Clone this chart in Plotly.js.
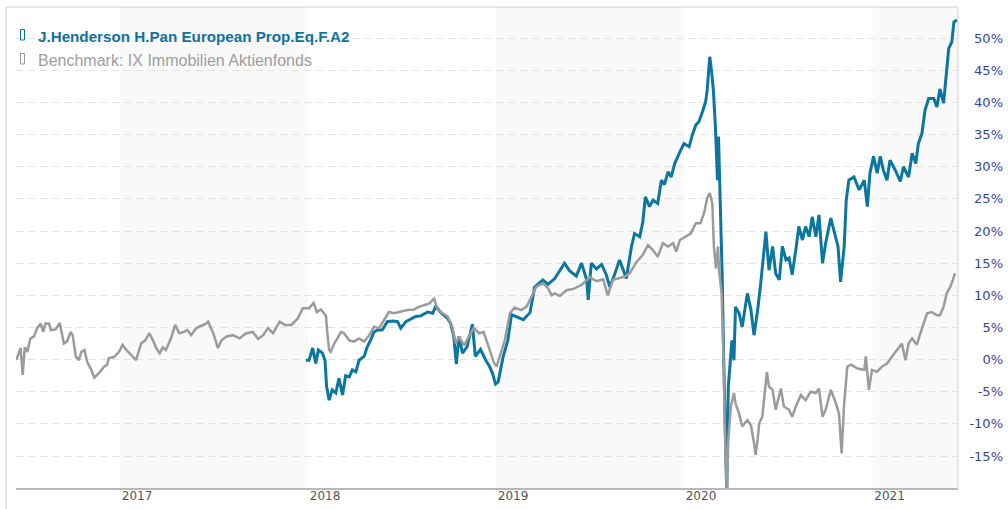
<!DOCTYPE html>
<html>
<head>
<meta charset="utf-8">
<script src="https://cdn.plot.ly/plotly-3.0.1.min.js"></script>
<style>html,body{margin:0;padding:0;background:#fff;}#chart{width:1008px;height:509px;}</style>
</head>
<body>
<div id="chart"></div>
<script>
// Series names
const fundName = 'J.Henderson H.Pan European Prop.Eq.F.A2';
const benchName = 'Benchmark: IX Immobilien Aktienfonds';

// Benchmark (gray) – performance in %
const benchDates = ['2016-06-14','2016-06-22','2016-06-26','2016-06-30','2016-07-05','2016-07-11','2016-07-18','2016-07-24','2016-07-31','2016-08-05','2016-08-09','2016-08-16','2016-08-20','2016-08-29','2016-09-06','2016-09-14','2016-09-20','2016-09-27','2016-10-01','2016-10-07','2016-10-13','2016-10-18','2016-10-24','2016-10-29','2016-11-05','2016-11-12','2016-11-21','2016-12-01','2016-12-07','2016-12-10','2016-12-20','2016-12-30',
'2017-01-06','2017-01-13','2017-01-23','2017-02-01','2017-02-11','2017-02-19','2017-02-27','2017-03-06','2017-03-12','2017-03-19','2017-03-25','2017-03-31','2017-04-10','2017-04-18','2017-04-26','2017-05-05','2017-05-12','2017-05-19','2017-05-29','2017-06-07','2017-06-17','2017-06-21','2017-07-01','2017-07-10','2017-07-17','2017-07-27','2017-08-08','2017-08-21','2017-09-03','2017-09-16','2017-09-26','2017-10-06','2017-10-15','2017-10-25','2017-11-07','2017-11-17','2017-11-30','2017-12-12','2017-12-22',
'2018-01-03','2018-01-12','2018-01-18','2018-01-26','2018-02-01','2018-02-05','2018-02-07','2018-02-11','2018-02-14','2018-02-21','2018-02-27','2018-03-06','2018-03-12','2018-03-22','2018-03-31','2018-04-10','2018-04-20','2018-04-30','2018-05-09','2018-05-19','2018-05-29','2018-06-07','2018-06-17','2018-06-30','2018-07-13','2018-07-26','2018-08-04','2018-08-24','2018-09-03','2018-09-09','2018-09-16','2018-09-29','2018-10-08','2018-10-15','2018-10-21','2018-10-31','2018-11-09','2018-11-19','2018-11-29','2018-12-08','2018-12-18','2018-12-28',
'2019-01-02','2019-01-08','2019-01-18','2019-01-28','2019-02-06','2019-02-19','2019-03-01','2019-03-11','2019-03-20','2019-04-02','2019-04-12','2019-04-19','2019-04-25','2019-05-05','2019-05-18','2019-05-31','2019-06-16','2019-07-02','2019-07-15','2019-07-28','2019-08-06','2019-08-16','2019-08-29','2019-09-08','2019-09-18','2019-10-01','2019-10-13','2019-10-23','2019-11-02','2019-11-11','2019-11-21','2019-12-01','2019-12-11','2019-12-17','2019-12-24',
'2020-01-04','2020-01-14','2020-01-24','2020-02-02','2020-02-09','2020-02-15','2020-02-20','2020-02-25','2020-02-28','2020-03-03','2020-03-07','2020-03-09','2020-03-14','2020-03-18','2020-03-20','2020-03-22','2020-03-24','2020-03-27','2020-04-01','2020-04-07','2020-04-10','2020-04-17','2020-04-23','2020-05-03','2020-05-10','2020-05-16','2020-05-19','2020-05-23','2020-05-26','2020-06-01','2020-06-10','2020-06-14','2020-06-21','2020-06-27','2020-07-07','2020-07-13','2020-07-23','2020-07-29','2020-08-05','2020-08-15','2020-08-24','2020-09-03','2020-09-13','2020-09-19','2020-09-26','2020-10-02','2020-10-12','2020-10-22','2020-10-28','2020-11-02','2020-11-07','2020-11-13','2020-11-20','2020-12-03','2020-12-16','2020-12-19','2020-12-25','2020-12-31',
'2021-01-10','2021-01-19','2021-01-29','2021-02-08','2021-02-17','2021-02-27','2021-03-06','2021-03-12','2021-03-19','2021-03-28','2021-04-04','2021-04-10','2021-04-17','2021-04-26','2021-05-06','2021-05-12','2021-05-19','2021-05-25','2021-06-01','2021-06-06','2021-06-10'];
const benchValues = [0.0,1.8,-2.4,1.9,1.2,3.3,3.6,4.9,5.6,4.3,5.6,5.6,4.6,4.7,5.7,2.5,2.8,4.3,3.8,0.5,-0.1,1.2,1.5,-0.3,-1.4,-2.8,-2.1,-1.1,-0.8,0.2,0.4,1.2,
2.3,1.5,0.7,-0.1,2.5,3.0,4.1,3.0,1.8,1.0,1.9,1.5,3.3,5.4,4.1,4.3,4.6,3.8,4.9,5.2,5.6,5.9,4.1,1.8,3.0,3.6,3.8,3.3,4.1,4.3,3.2,3.8,4.9,4.1,5.9,5.4,5.4,6.4,8.0,
8.0,8.8,7.4,7.8,7.2,6.8,4.6,1.5,1.2,2.5,3.3,4.3,4.1,3.0,2.8,3.3,2.8,3.8,5.1,4.9,6.2,7.4,7.2,7.5,7.7,7.8,8.2,8.7,9.5,7.9,7.4,6.7,5.1,2.5,3.6,2.2,3.6,4.9,4.1,4.3,2.0,-0.5,
-1.1,0.5,3.0,7.2,8.1,7.7,8.2,9.8,11.3,11.9,11.1,10.0,10.3,9.9,10.8,11.0,11.6,12.8,12.2,12.5,10.0,12.4,12.7,12.9,13.5,15.2,16.3,17.8,17.0,16.0,18.1,17.6,18.1,16.8,18.6,
19.1,19.6,21.2,21.2,22.8,25.1,25.9,24.3,17.6,14.2,17.6,13.9,10.3,-0.1,-9.9,-17.7,-21.0,-12.5,-7.3,-5.2,-6.8,-8.4,-10.4,-9.4,-10.2,-13.0,-14.8,-12.5,-9.9,-8.9,-1.9,-4.2,-4.7,-7.8,-4.5,-7.3,-7.8,-8.9,-7.3,-5.5,-6.3,-5.0,-5.2,-4.5,-8.9,-7.8,-4.7,-6.8,-8.4,-14.6,-6.8,-1.1,-0.8,-1.4,-1.6,0.5,-4.7,-1.6,
-1.9,-1.1,-0.6,0.5,1.5,2.5,-0.1,2.5,3.3,2.3,4.1,5.6,7.2,7.4,6.9,6.9,8.2,10.3,11.3,12.4,13.4];

// Fund (blue) – performance in %
const fundDates = ['2017-12-28','2018-01-03','2018-01-10','2018-01-16','2018-01-21','2018-01-29','2018-02-03','2018-02-06','2018-02-11','2018-02-17','2018-02-24','2018-03-02','2018-03-09','2018-03-15','2018-03-22','2018-03-28','2018-04-04','2018-04-10','2018-04-20','2018-04-26','2018-05-03','2018-05-09','2018-05-16','2018-05-25','2018-06-04','2018-06-14','2018-06-24','2018-06-30','2018-07-10','2018-07-19','2018-07-29','2018-08-08','2018-08-21','2018-08-31','2018-09-06','2018-09-16','2018-09-29','2018-10-05','2018-10-11','2018-10-16','2018-10-21','2018-10-28','2018-11-06','2018-11-16','2018-11-22','2018-12-02','2018-12-12','2018-12-19','2018-12-25','2018-12-31',
'2019-01-05','2019-01-15','2019-01-24','2019-01-31','2019-02-10','2019-02-23','2019-03-08','2019-03-17','2019-04-02','2019-04-12','2019-04-25','2019-05-01','2019-05-14','2019-05-24','2019-06-06','2019-06-16','2019-06-26','2019-06-29','2019-07-05','2019-07-15','2019-07-25','2019-08-03','2019-08-10','2019-08-19','2019-08-29','2019-09-11','2019-09-21','2019-09-27','2019-10-07','2019-10-13','2019-10-18','2019-10-26','2019-11-02','2019-11-11','2019-11-18','2019-11-24','2019-12-01','2019-12-07','2019-12-14','2019-12-24',
'2020-01-01','2020-01-11','2020-01-17','2020-01-24','2020-01-30','2020-02-06','2020-02-12','2020-02-15','2020-02-18','2020-02-20','2020-02-24','2020-02-27','2020-03-02','2020-03-04','2020-03-06','2020-03-08','2020-03-11','2020-03-15','2020-03-18','2020-03-21','2020-03-24','2020-03-27','2020-04-03','2020-04-07','2020-04-10','2020-04-17','2020-04-23','2020-05-03','2020-05-10','2020-05-16','2020-05-23','2020-05-29','2020-06-08','2020-06-14','2020-06-21','2020-06-27','2020-07-04','2020-07-10','2020-07-17','2020-07-23','2020-07-29','2020-08-05','2020-08-11','2020-08-18','2020-08-24','2020-08-31','2020-09-06','2020-09-13','2020-09-19','2020-09-26','2020-10-02','2020-10-12','2020-10-22','2020-10-26','2020-10-31','2020-11-07','2020-11-11','2020-11-16','2020-11-26','2020-12-06','2020-12-16','2020-12-22','2020-12-27',
'2021-01-03','2021-01-10','2021-01-16','2021-01-22','2021-01-29','2021-02-04','2021-02-14','2021-02-24','2021-03-02','2021-03-12','2021-03-19','2021-03-26','2021-03-31','2021-04-07','2021-04-13','2021-04-20','2021-04-30','2021-05-06','2021-05-12','2021-05-19','2021-05-29','2021-06-04','2021-06-08','2021-06-14'];
const fundValues = [-0.1,-0.1,1.8,-0.6,1.5,1.0,-0.1,-4.2,-6.3,-4.7,-5.2,-2.9,-5.5,-2.5,-2.7,-1.6,-1.9,-0.1,0.5,2.0,3.1,4.3,4.6,4.6,5.9,6.0,5.9,4.9,5.9,6.3,6.7,6.8,7.4,7.2,8.3,7.3,6.4,5.6,3.6,-0.7,3.6,1.0,2.0,5.5,0.5,1.6,-0.1,-1.0,-2.1,-3.8,
-3.5,0.5,3.0,7.0,6.7,6.2,7.3,11.3,12.4,11.7,12.6,13.3,15.0,13.8,13.0,15.0,12.4,9.3,15.0,14.1,14.8,13.2,11.3,13.2,15.5,12.6,17.6,19.6,19.1,21.4,25.3,23.8,24.8,24.3,27.9,27.2,29.2,28.4,30.5,32.3,
33.6,33.1,34.9,36.5,37.0,38.6,40.1,41.9,44.5,47.1,44.5,41.9,36.2,32.6,27.9,34.7,25.9,13.4,0.5,-9.9,-21.0,-4.2,3.0,-0.1,8.2,7.2,5.1,10.3,7.7,3.8,7.7,11.9,19.9,13.9,17.6,13.4,12.4,17.6,15.5,15.8,13.2,17.0,20.7,18.6,20.7,19.1,22.2,19.1,22.5,15.0,18.1,22.0,18.6,17.6,12.1,17.6,24.8,27.9,28.4,26.4,27.9,23.8,29.0,
31.6,29.0,31.6,29.5,27.9,31.0,29.5,27.7,30.0,28.4,32.1,30.5,33.6,35.2,38.8,40.6,40.6,39.3,42.1,39.9,48.4,49.4,52.5,52.8];

// Axis ticks
const yearTicks = ['2017-01-01','2018-01-01','2019-01-01','2020-01-01','2021-01-01'];
const yearLabels = ['2017','2018','2019','2020','2021'];
const pctTicks = [-15,-10,-5,0,5,10,15,20,25,30,35,40,45,50];
const pctLabels = ['-15%','-10%','-5%','0%','5%','10%','15%','20%','25%','30%','35%','40%','45%','50%'];
const shadedYears = [['2017-01-01','2018-01-01'],['2019-01-01','2020-01-01'],['2021-01-01','2022-01-01']];

const xRange = ['2016-06-13','2021-06-16'];
const BLUE = '#0b77a0';
const GRAY = '#9b9b9b';

const traces = [
  {x: fundDates, y: fundValues, type:'scatter', mode:'lines', name: fundName,
   line:{color:BLUE, width:3}, hoverinfo:'skip'},
  {x: benchDates, y: benchValues, type:'scatter', mode:'lines', name: benchName,
   line:{color:GRAY, width:2.5}, hoverinfo:'skip'}
];

const shapes = [];
shadedYears.forEach(p => shapes.push({type:'rect', xref:'x', yref:'y domain', x0:p[0], x1:p[1] > xRange[1] ? xRange[1] : p[1], y0:0, y1:1,
  fillcolor:'#f9f9f9', line:{width:0}, layer:'below'}));
// frame lines (pixel offsets from plot origin)
const frame = {color:'#d2d2d2', width:1};
shapes.push({type:'line', xref:'paper', yref:'paper', xsizemode:'pixel', ysizemode:'pixel', xanchor:0, yanchor:1, x0:-10, x1:-10, y0:0, y1:-502, line:frame, layer:'above'});
shapes.push({type:'line', xref:'paper', yref:'paper', xsizemode:'pixel', ysizemode:'pixel', xanchor:0, yanchor:1, x0:-10, x1:942, y0:0, y1:0, line:frame, layer:'above'});
shapes.push({type:'line', xref:'paper', yref:'paper', xsizemode:'pixel', ysizemode:'pixel', xanchor:0, yanchor:1, x0:942, x1:942, y0:0, y1:-481, line:frame, layer:'above'});
// legend markers
shapes.push({type:'rect', xref:'paper', yref:'paper', xsizemode:'pixel', ysizemode:'pixel', xanchor:0, yanchor:1, x0:4.5, x1:8.5, y0:-22.5, y1:-33, line:{color:BLUE, width:1}, layer:'above'});
shapes.push({type:'rect', xref:'paper', yref:'paper', xsizemode:'pixel', ysizemode:'pixel', xanchor:0, yanchor:1, x0:4.5, x1:8.5, y0:-46.5, y1:-57, line:{color:GRAY, width:1}, layer:'above'});

const annotations = [
  {xref:'paper', yref:'paper', x:0, y:1, xanchor:'left', yanchor:'middle', xshift:20, yshift:-29.5,
   text:fundName, showarrow:false, font:{family:'Liberation Sans, Arial, sans-serif', size:15.2, color:'#0f73a0', weight:'bold'}},
  {xref:'paper', yref:'paper', x:0, y:1, xanchor:'left', yanchor:'middle', xshift:20, yshift:-53.5,
   text:benchName, showarrow:false, font:{family:'Liberation Sans, Arial, sans-serif', size:16, color:'#9e9e9e'}}
];

const layout = {
  width:1008, height:509,
  margin:{l:16, r:2, t:7, b:21, pad:0},
  paper_bgcolor:'#ffffff', plot_bgcolor:'#ffffff',
  showlegend:false,
  xaxis:{type:'date', domain:[0, 0.95152], range:xRange, showgrid:false, zeroline:false,
    showline:true, linecolor:'#b8b8b8', linewidth:2, ticks:'',
    tickmode:'array', tickvals:yearTicks, ticktext:yearLabels, ticklabelshift:17, ticklabelstandoff:-4,
    tickfont:{family:'DejaVu Sans, Verdana, sans-serif', size:12, color:'#555555'}, fixedrange:true},
  yaxis:{anchor:'free', position:1, side:'right', range:[-19.97, 54.84],
    tickmode:'array', tickvals:pctTicks, ticktext:pctLabels, ticklabelposition:'inside', ticks:'', ticklabelshift:-1.5,
    showgrid:true, gridcolor:'#e2e2e2', gridwidth:1, griddash:'7px,5px', zeroline:false, showline:false,
    tickfont:{family:'DejaVu Sans, Verdana, sans-serif', size:13, color:'#3346a8'}, fixedrange:true},
  shapes:shapes,
  annotations:annotations
};

Plotly.newPlot('chart', traces, layout, {staticPlot:true, displayModeBar:false});
</script>
</body>
</html>
